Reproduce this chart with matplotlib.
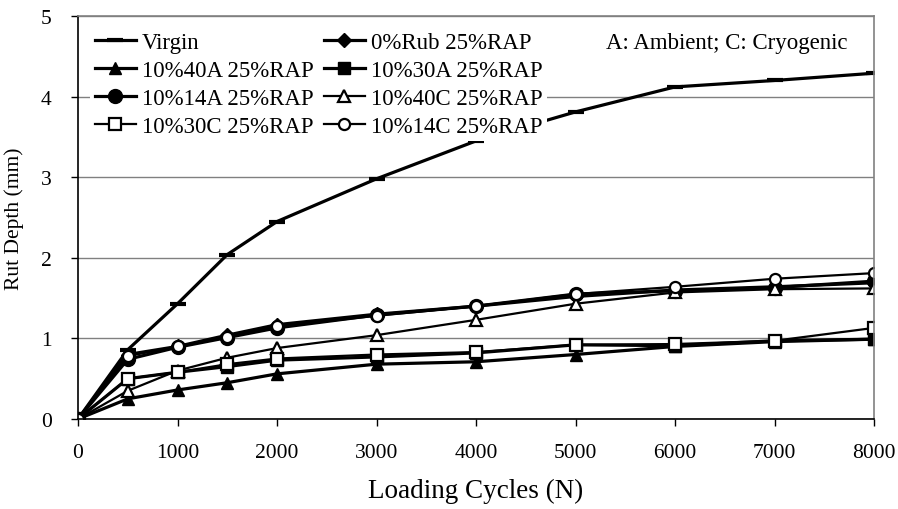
import matplotlib
matplotlib.use("Agg")
import matplotlib.pyplot as plt

plt.rcParams["font.family"] = ["Liberation Serif", "DejaVu Serif"]

cycles = [0, 500, 1000, 1500, 2000, 3000, 4000, 5000, 6000, 7000, 8000]

virgin = [0, 0.86, 1.43, 2.04, 2.45, 2.98, 3.45, 3.81, 4.12, 4.20, 4.29]
rub0 = [0, 0.80, 0.90, 1.04, 1.17, 1.30, 1.40, 1.52, 1.60, 1.64, 1.69]
a40 = [0, 0.25, 0.36, 0.45, 0.56, 0.68, 0.71, 0.80, 0.90, 0.96, 0.99]
a30 = [0, 0.50, 0.58, 0.65, 0.73, 0.77, 0.82, 0.92, 0.91, 0.97, 0.99]
a14 = [0, 0.74, 0.89, 1.01, 1.13, 1.29, 1.40, 1.55, 1.59, 1.63, 1.71]
c40 = [0, 0.35, 0.60, 0.76, 0.88, 1.04, 1.23, 1.43, 1.57, 1.61, 1.62]
c30 = [0, 0.50, 0.58, 0.68, 0.75, 0.80, 0.83, 0.92, 0.93, 0.97, 1.13]
c14 = [0, 0.78, 0.90, 1.02, 1.15, 1.28, 1.40, 1.55, 1.64, 1.74, 1.81]

labels = ["Virgin", "0%Rub 25%RAP", "10%40A 25%RAP", "10%30A 25%RAP",
          "10%14A 25%RAP", "10%40C 25%RAP", "10%30C 25%RAP", "10%14C 25%RAP"]

fig = plt.figure(figsize=(8.98, 5.10), dpi=100)
ax = fig.add_axes([0.0869, 0.1765, 0.8864, 0.7902])

k = dict(color="black", lw=2.3)
ko = dict(color="black", lw=1.6, mfc="white", mew=1.6)
lines = {}
lines[0], = ax.plot(cycles, virgin, marker="_", ms=12, mew=3, label=labels[0], **k)
lines[1], = ax.plot(cycles, rub0, marker="D", ms=7, label=labels[1], **k)
lines[2], = ax.plot(cycles, a40, marker="^", ms=9, label=labels[2], **k)
lines[3], = ax.plot(cycles, a30, marker="s", ms=9, label=labels[3], **k)
lines[4], = ax.plot(cycles, a14, marker="o", ms=10, label=labels[4], **k)
lines[5], = ax.plot(cycles, c40, marker="^", ms=8.5, label=labels[5], **ko)
lines[6], = ax.plot(cycles, c30, marker="s", ms=8, label=labels[6], **ko)
lines[7], = ax.plot(cycles, c14, marker="o", ms=8, label=labels[7], **ko)

ax.set_xlim(0, 8000)
ax.set_ylim(0, 5)
ax.set_xticks(range(0, 8001, 1000))
ax.set_yticks(range(0, 6))
ax.yaxis.grid(True, color="#808080", lw=1.0)
ax.set_axisbelow(True)
for s in ["top", "right"]:
    ax.spines[s].set_color("#808080")
    ax.spines[s].set_linewidth(1.2)
for s in ["left", "bottom"]:
    ax.spines[s].set_color("black")
    ax.spines[s].set_linewidth(1.2)
ax.tick_params(direction="out", length=5, width=1, labelsize=15.5)
ax.tick_params(axis="x", pad=12)
ax.tick_params(axis="y", pad=14)
ax.set_xlabel("Loading Cycles (N)", fontsize=19.5, labelpad=12)
ax.set_ylabel("Rut Depth (mm)", fontsize=15.5, labelpad=12)

# legend filled row by row, as in the original; white box hides the line behind it
order = [0, 2, 4, 6, 1, 3, 5, 7]
leg = ax.legend([lines[i] for i in order], [labels[i] for i in order],
                loc="upper left", bbox_to_anchor=(0.015, 0.972), ncol=2,
                frameon=True, fontsize=16.5, handlelength=1.8,
                handletextpad=0.26, columnspacing=0.45, labelspacing=0.3,
                borderaxespad=0, borderpad=0.2, fancybox=False)
leg.get_frame().set_facecolor("white")
leg.get_frame().set_edgecolor("none")
leg.get_frame().set_alpha(1)
ax.text(0.967, 0.935, "A: Ambient; C: Cryogenic", transform=ax.transAxes,
        ha="right", va="center", fontsize=16.5)

fig.savefig("out.png", dpi=100)
